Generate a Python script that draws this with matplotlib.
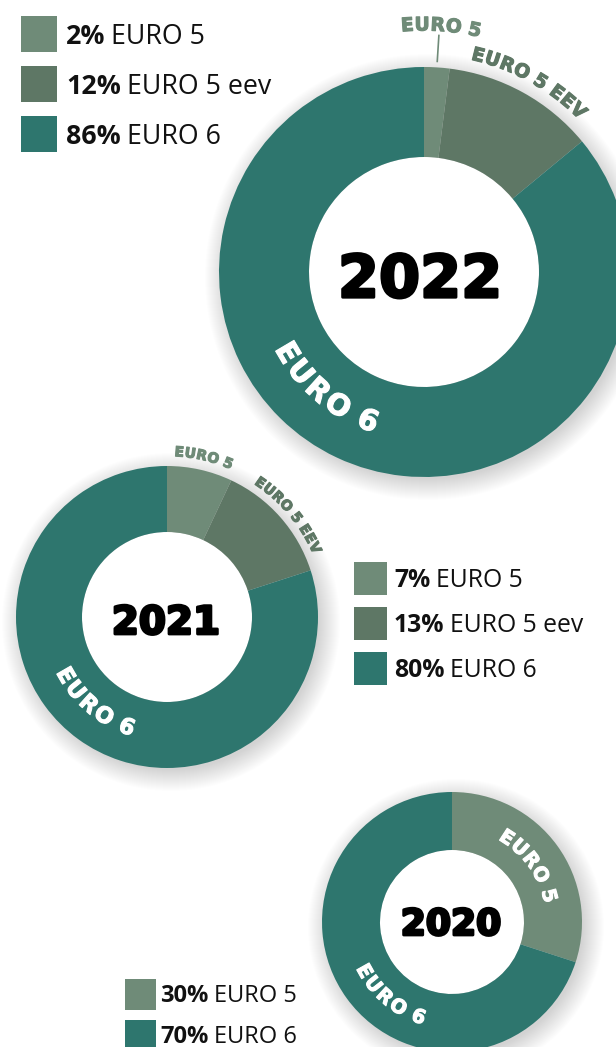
import numpy as np
import matplotlib.pyplot as plt
import matplotlib.patheffects as pe
from matplotlib.patches import Circle, Rectangle
from matplotlib.textpath import TextToPath
from matplotlib.font_manager import FontProperties

W, H = 616, 1047

# data
years = ['2022', '2021', '2020']
labels_2022 = ['EURO 5', 'EURO 5 eev', 'EURO 6']
shares_2022 = [2, 12, 86]
labels_2021 = ['EURO 5', 'EURO 5 eev', 'EURO 6']
shares_2021 = [7, 13, 80]
labels_2020 = ['EURO 5', 'EURO 6']
shares_2020 = [30, 70]

c_e5 = '#6f8b78'
c_eev = '#5e7765'
c_e6 = '#2e766e'

fig = plt.figure(figsize=(W / 100, H / 100), dpi=100)
ax = fig.add_axes([0, 0, 1, 1])
t2p = TextToPath()
PX = 100 / 72  # pt -> px


def reset_limits():
    ax.set_xlim(0, W)
    ax.set_ylim(0, H)
    ax.set_aspect('equal')
    ax.axis('off')


def donut(shares, colors, cx, cy, r_out, r_in):
    cy = H - cy
    # soft shadow
    for k in range(22):
        ax.add_patch(Circle((cx + 4, cy - 5), r_out + 18 - k, color='k',
                            alpha=0.009, lw=0, zorder=0.5))
    ax.add_patch(Circle((cx, cy), r_in, color='white', lw=0, zorder=0.8))
    ax.pie(shares, colors=colors, startangle=90, counterclock=False,
           center=(cx, cy), radius=r_out,
           wedgeprops=dict(width=r_out - r_in, linewidth=0))
    reset_limits()


def arc_text(text, cx, cy, r, mid, size, color, cw=True, track=0.0):
    cy = H - cy
    fp = FontProperties(family='DejaVu Sans', weight='bold', size=size)
    widths = []
    for ch in text:
        if ch == ' ':
            widths.append(0.32 * size * PX)
        else:
            w, h, d = t2p.get_text_width_height_descent(ch, fp, ismath=False)
            widths.append(w * PX + track)
    total = sum(widths)
    span = np.degrees(total / r)
    pos = 0
    for ch, w in zip(text, widths):
        off = np.degrees((pos + w / 2) / r)
        if cw:
            a = mid + span / 2 - off
            rot = a - 90
        else:
            a = mid - span / 2 + off
            rot = a + 90
        pos += w
        if ch == ' ':
            continue
        x = cx + r * np.cos(np.radians(a))
        y = cy + r * np.sin(np.radians(a))
        ax.text(x, y, ch, fontproperties=fp, color=color, rotation=rot,
                rotation_mode='anchor', ha='center', va='center', zorder=5,
                path_effects=[pe.withStroke(linewidth=0.8, foreground=color)])


def year_label(txt, cx, cy, size):
    ax.text(cx, H - cy - 0.36 * size * PX, txt, family='DejaVu Sans',
            weight='bold', fontsize=size, ha='center', va='baseline',
            color='black', zorder=5,
            path_effects=[pe.withStroke(linewidth=2.0, foreground='black')])


def legend(x, y0, step, sq, gap, labels, shares, colors, size):
    r = fig.canvas.get_renderer()
    inv = ax.transData.inverted()
    for i, (lab, s, c) in enumerate(zip(labels, shares, colors)):
        yc = y0 + i * step
        ax.add_patch(Rectangle((x, H - yc - sq / 2), sq, sq, color=c, lw=0))
        yb = H - yc - 0.357 * size * PX
        t = ax.text(x + sq + gap, yb, f'{s}%', family='Open Sans', weight='bold',
                    fontsize=size, va='baseline', ha='left', color='#111111')
        bb = t.get_window_extent(renderer=r)
        x1 = inv.transform((bb.x1, bb.y0))[0]
        ax.text(x1 + 0.22 * size * PX, yb, lab, family='Open Sans',
                fontsize=size, va='baseline', ha='left', color='#111111')


reset_limits()

# 2022
donut(shares_2022, [c_e5, c_eev, c_e6], 424, 272, 205, 115)
year_label(years[0], 420, 276, 42.5)
arc_text('EURO 5', 424, 272, 247, 86, 13.5, c_e5, track=0.8)
arc_text('EURO 5 EEV', 424, 272, 223, 61, 13.5, c_eev, track=0.8)
a = np.radians(86.4)
ax.plot([424 + 211 * np.cos(a), 424 + 237 * np.cos(a)],
        [H - 272 + 211 * np.sin(a), H - 272 + 237 * np.sin(a)],
        color=c_e5, lw=1.2, zorder=5)
arc_text('EURO 6', 424, 272, 160, 230, 21, 'white', cw=False, track=2.0)
legend(21, 34, 50, 36, 9, labels_2022, shares_2022, [c_e5, c_eev, c_e6], 19.3)

# 2021
donut(shares_2021, [c_e5, c_eev, c_e6], 167, 617, 151, 85)
year_label(years[1], 166, 620, 28)
arc_text('EURO 5', 167, 617, 165, 77, 10, c_e5, track=0.6)
arc_text('EURO 5 EEV', 167, 617, 163, 40, 10, c_eev, track=0.6)
arc_text('EURO 6', 167, 617, 118, 230, 16, 'white', cw=False, track=1.5)
legend(354, 578, 45, 33, 7, labels_2021, shares_2021, [c_e5, c_eev, c_e6], 17.8)

# 2020
donut(shares_2020, [c_e5, c_e6], 452, 922, 130, 72)
year_label(years[2], 451, 922, 26)
arc_text('EURO 5', 452, 922, 100, 36, 14, 'white', track=1.5)
arc_text('EURO 6', 452, 922, 101, 230, 14, 'white', cw=False, track=1.5)
legend(125, 994, 41, 31, 4, labels_2020, shares_2020, [c_e5, c_e6], 17)

reset_limits()
fig.savefig('out.png', dpi=100, facecolor='white')
